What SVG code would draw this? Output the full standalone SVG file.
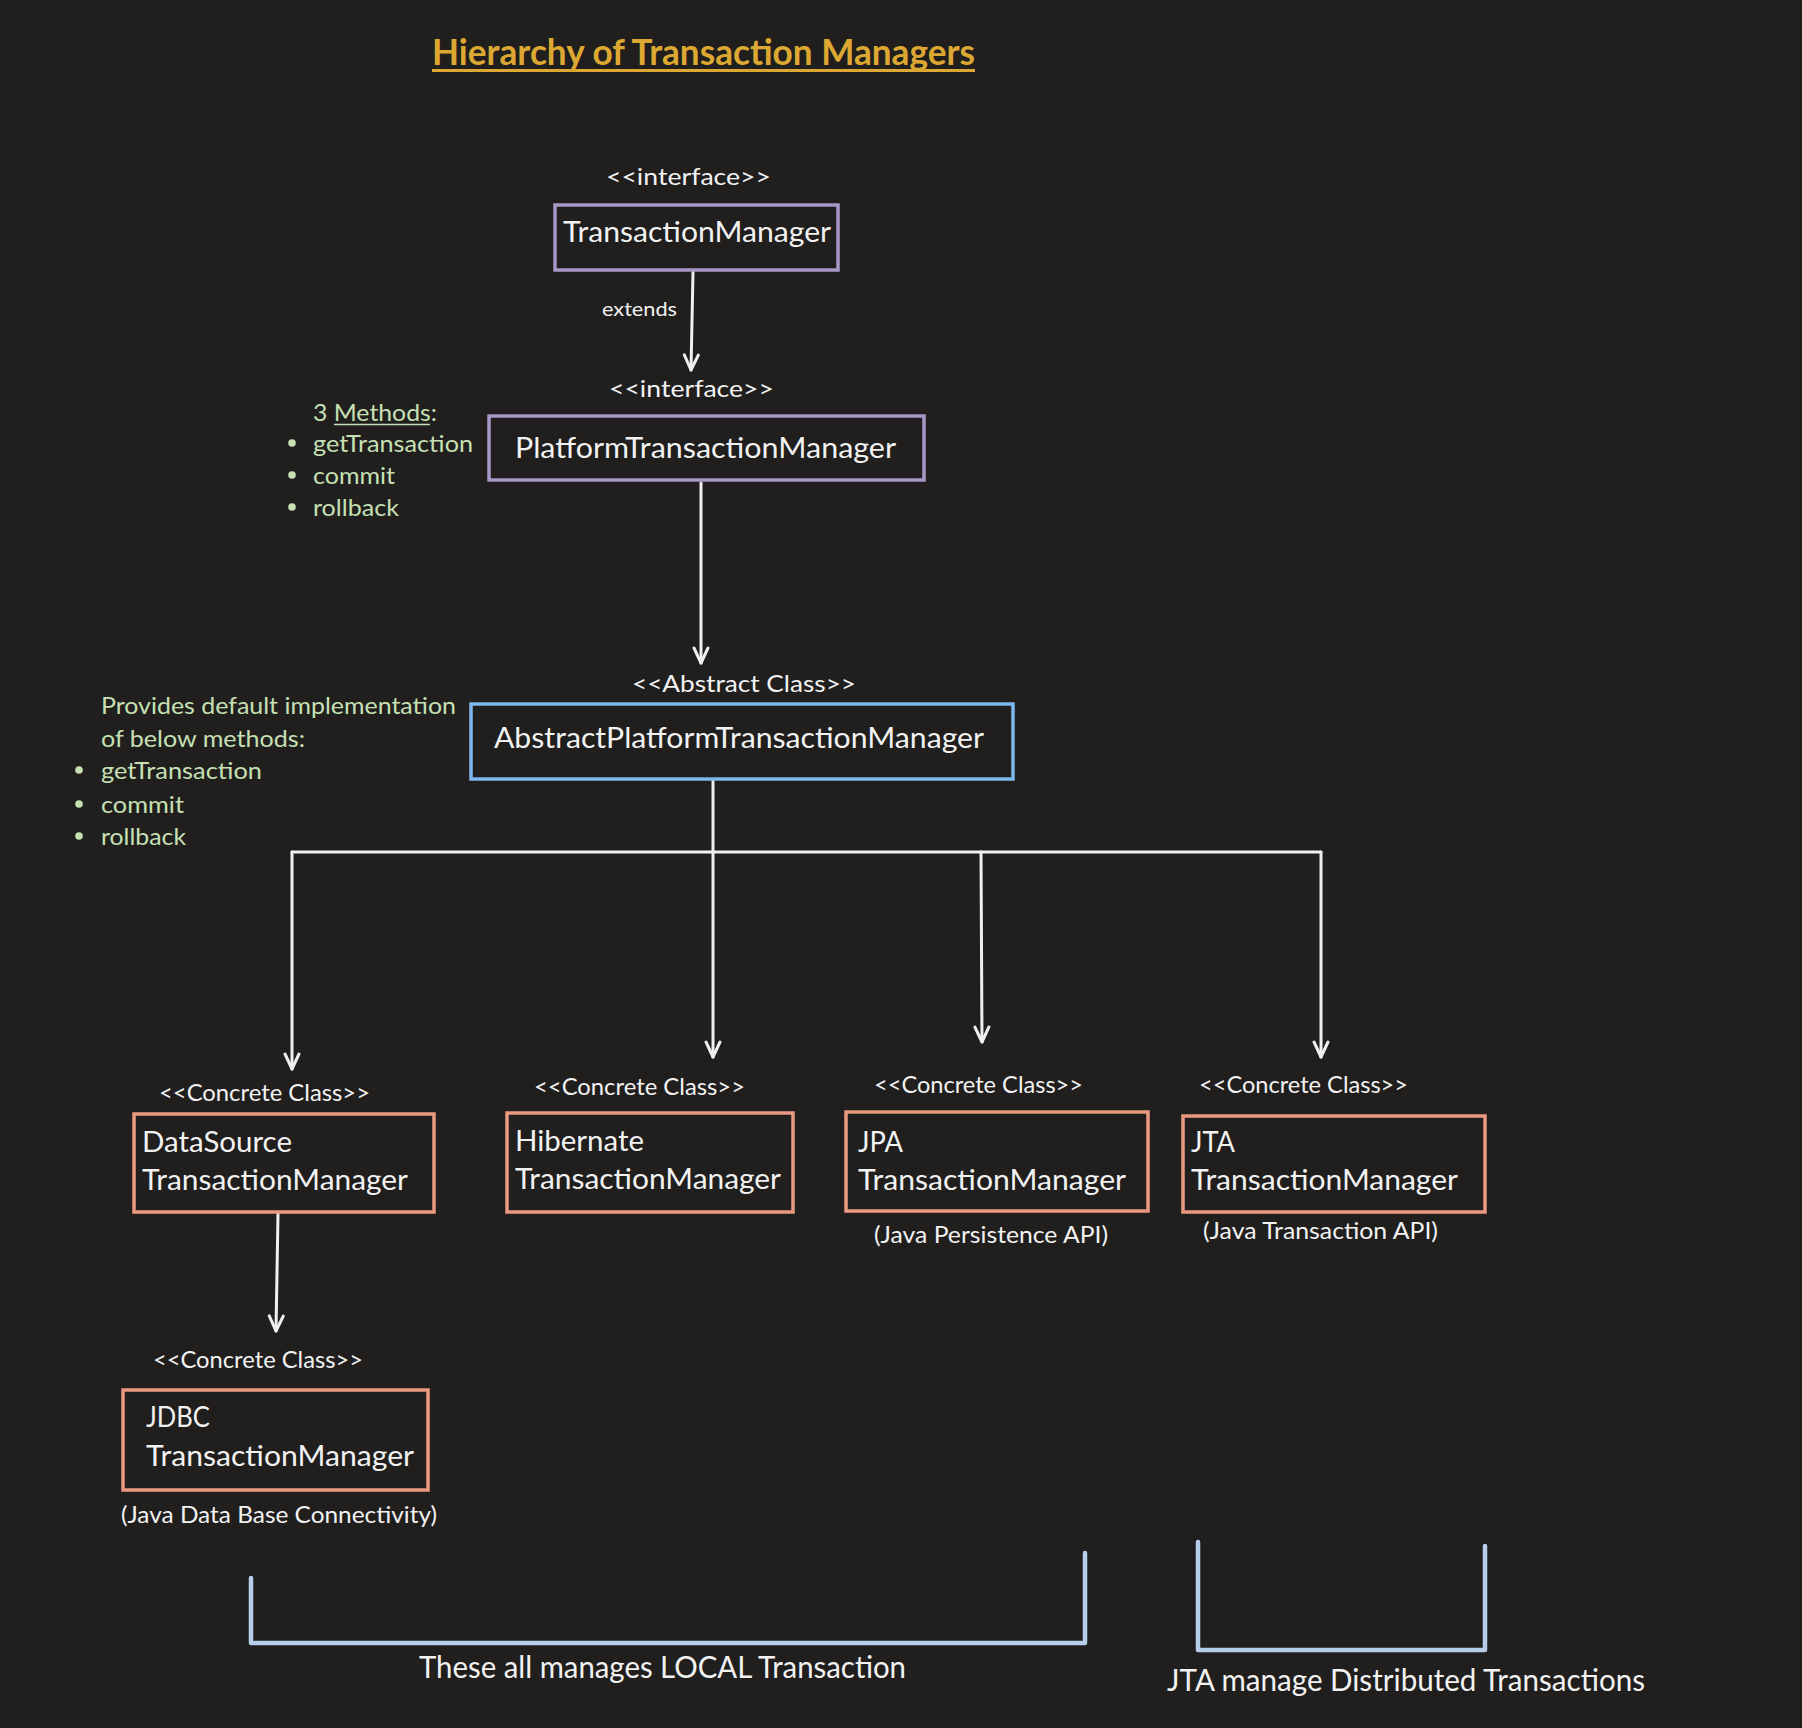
<svg xmlns="http://www.w3.org/2000/svg" width="1802" height="1728" viewBox="0 0 1802 1728">
<defs>
<style>
text{font-family:Lato,"Open Sans","Liberation Sans",sans-serif;fill:#F2F2F2}
.title{font-weight:bold;font-size:36px;fill:#DDA832}
.st{font-size:24px}
.nm{font-size:29.5px}
.sm{font-size:20px}
.par{font-size:23px}
.big{font-size:30px}
.gr{font-size:24px;fill:#C6E0B4}
.box{fill:none;stroke-width:3.5}
.purple{stroke:#A898C8}
.blue{stroke:#7DB9F0}
.orange{stroke:#EA9A80}
.conn{fill:none;stroke:#F0F0F0;stroke-width:3;stroke-linecap:round}
.brk{fill:none;stroke:#B6CDEB;stroke-width:4.5;stroke-linecap:round;stroke-linejoin:round}
.bul{fill:#C6E0B4}
</style>
<marker id="arr" viewBox="-18 -10 20 20" refX="0" refY="0" markerWidth="20" markerHeight="20" markerUnits="userSpaceOnUse" orient="auto">
<path d="M-15,-7 L0,0 L-15,7" fill="none" stroke="#F0F0F0" stroke-width="3" stroke-linecap="round" stroke-linejoin="round"/>
</marker>
</defs>
<rect x="0" y="0" width="1802" height="1728" fill="#201F1E"/>

<g id="title">
<text class="title" x="432" y="65" textLength="543" lengthAdjust="spacingAndGlyphs">Hierarchy of Transaction Managers</text>
<line x1="432" y1="70.5" x2="975" y2="70.5" stroke="#DDA832" stroke-width="3"/>
</g>

<g id="connectors">
<path class="conn" d="M693,272 L691,370" marker-end="url(#arr)"/>
<path class="conn" d="M701,483 L701,663" marker-end="url(#arr)"/>
<path class="conn" d="M292,852 L1321,852"/>
<path class="conn" d="M713,781 L713,1057" marker-end="url(#arr)"/>
<path class="conn" d="M292,852 L292,1069" marker-end="url(#arr)"/>
<path class="conn" d="M981,852 L982,1042" marker-end="url(#arr)"/>
<path class="conn" d="M1321,852 L1321,1057" marker-end="url(#arr)"/>
<path class="conn" d="M278,1214 L276,1331" marker-end="url(#arr)"/>
<text class="sm" x="602" y="316" textLength="75" lengthAdjust="spacingAndGlyphs">extends</text>
</g>

<g id="node-transaction-manager">
<text class="st" x="606" y="185" textLength="165" lengthAdjust="spacingAndGlyphs">&lt;&lt;interface&gt;&gt;</text>
<rect class="box purple" x="555" y="205" width="283" height="65"/>
<text class="nm" x="563" y="242" textLength="268" lengthAdjust="spacingAndGlyphs">TransactionManager</text>
</g>

<g id="node-platform-transaction-manager">
<text class="st" x="609" y="397" textLength="165" lengthAdjust="spacingAndGlyphs">&lt;&lt;interface&gt;&gt;</text>
<rect class="box purple" x="489" y="416" width="435" height="64"/>
<text class="nm" x="515" y="458" textLength="381" lengthAdjust="spacingAndGlyphs">PlatformTransactionManager</text>
</g>

<g id="note-methods">
<text class="gr" x="313" y="421" textLength="124" lengthAdjust="spacingAndGlyphs">3 Methods:</text>
<line x1="334" y1="424.5" x2="430" y2="424.5" stroke="#C6E0B4" stroke-width="1.5"/>
<circle class="bul" cx="292" cy="443" r="3.8"/>
<text class="gr" x="313" y="452" textLength="160" lengthAdjust="spacingAndGlyphs">getTransaction</text>
<circle class="bul" cx="292" cy="475" r="3.8"/>
<text class="gr" x="313" y="484" textLength="82" lengthAdjust="spacingAndGlyphs">commit</text>
<circle class="bul" cx="292" cy="507" r="3.8"/>
<text class="gr" x="313" y="516" textLength="86" lengthAdjust="spacingAndGlyphs">rollback</text>
</g>

<g id="node-abstract-platform-transaction-manager">
<text class="st" x="632" y="692" textLength="224" lengthAdjust="spacingAndGlyphs">&lt;&lt;Abstract Class&gt;&gt;</text>
<rect class="box blue" x="471" y="704" width="542" height="75"/>
<text class="nm" x="494" y="748" textLength="490" lengthAdjust="spacingAndGlyphs">AbstractPlatformTransactionManager</text>
</g>

<g id="note-default-impl">
<text class="gr" x="101" y="714" textLength="355" lengthAdjust="spacingAndGlyphs">Provides default implementation</text>
<text class="gr" x="101" y="747" textLength="204" lengthAdjust="spacingAndGlyphs">of below methods:</text>
<circle class="bul" cx="79" cy="770" r="3.8"/>
<text class="gr" x="101" y="779" textLength="161" lengthAdjust="spacingAndGlyphs">getTransaction</text>
<circle class="bul" cx="79" cy="804" r="3.8"/>
<text class="gr" x="101" y="813" textLength="83" lengthAdjust="spacingAndGlyphs">commit</text>
<circle class="bul" cx="79" cy="836" r="3.8"/>
<text class="gr" x="101" y="845" textLength="85" lengthAdjust="spacingAndGlyphs">rollback</text>
</g>

<g id="node-datasource-transaction-manager">
<text class="st" x="159" y="1101" textLength="211" lengthAdjust="spacingAndGlyphs">&lt;&lt;Concrete Class&gt;&gt;</text>
<rect class="box orange" x="134" y="1114" width="300" height="98"/>
<text class="nm" x="142" y="1152" textLength="150" lengthAdjust="spacingAndGlyphs">DataSource</text>
<text class="nm" x="142" y="1190" textLength="266" lengthAdjust="spacingAndGlyphs">TransactionManager</text>
</g>

<g id="node-hibernate-transaction-manager">
<text class="st" x="534" y="1095" textLength="211" lengthAdjust="spacingAndGlyphs">&lt;&lt;Concrete Class&gt;&gt;</text>
<rect class="box orange" x="507" y="1113" width="286" height="99"/>
<text class="nm" x="515" y="1151" textLength="129" lengthAdjust="spacingAndGlyphs">Hibernate</text>
<text class="nm" x="515" y="1189" textLength="266" lengthAdjust="spacingAndGlyphs">TransactionManager</text>
</g>

<g id="node-jpa-transaction-manager">
<text class="st" x="874" y="1093" textLength="209" lengthAdjust="spacingAndGlyphs">&lt;&lt;Concrete Class&gt;&gt;</text>
<rect class="box orange" x="846" y="1112" width="302" height="99"/>
<text class="nm" x="858" y="1152" textLength="45" lengthAdjust="spacingAndGlyphs">JPA</text>
<text class="nm" x="858" y="1190" textLength="268" lengthAdjust="spacingAndGlyphs">TransactionManager</text>
<text class="par" x="874" y="1243" textLength="234" lengthAdjust="spacingAndGlyphs">(Java Persistence API)</text>
</g>

<g id="node-jta-transaction-manager">
<text class="st" x="1199" y="1093" textLength="209" lengthAdjust="spacingAndGlyphs">&lt;&lt;Concrete Class&gt;&gt;</text>
<rect class="box orange" x="1183" y="1116" width="302" height="96"/>
<text class="nm" x="1191" y="1152" textLength="44" lengthAdjust="spacingAndGlyphs">JTA</text>
<text class="nm" x="1191" y="1190" textLength="267" lengthAdjust="spacingAndGlyphs">TransactionManager</text>
<text class="par" x="1203" y="1239" textLength="235" lengthAdjust="spacingAndGlyphs">(Java Transaction API)</text>
</g>

<g id="node-jdbc-transaction-manager">
<text class="st" x="153" y="1368" textLength="210" lengthAdjust="spacingAndGlyphs">&lt;&lt;Concrete Class&gt;&gt;</text>
<rect class="box orange" x="123" y="1390" width="305" height="100"/>
<text class="nm" x="146" y="1427" textLength="64" lengthAdjust="spacingAndGlyphs">JDBC</text>
<text class="nm" x="146" y="1466" textLength="268" lengthAdjust="spacingAndGlyphs">TransactionManager</text>
<text class="par" x="121" y="1523" textLength="316" lengthAdjust="spacingAndGlyphs">(Java Data Base Connectivity)</text>
</g>

<g id="bracket-local">
<path class="brk" d="M251,1578 L251,1643 L1085,1643 L1085,1553"/>
<text class="big" x="419" y="1678" textLength="487" lengthAdjust="spacingAndGlyphs">These all manages LOCAL Transaction</text>
</g>

<g id="bracket-distributed">
<path class="brk" d="M1198,1542 L1198,1650 L1485,1650 L1485,1546"/>
<text class="big" x="1167" y="1691" textLength="478" lengthAdjust="spacingAndGlyphs">JTA manage Distributed Transactions</text>
</g>
</svg>
